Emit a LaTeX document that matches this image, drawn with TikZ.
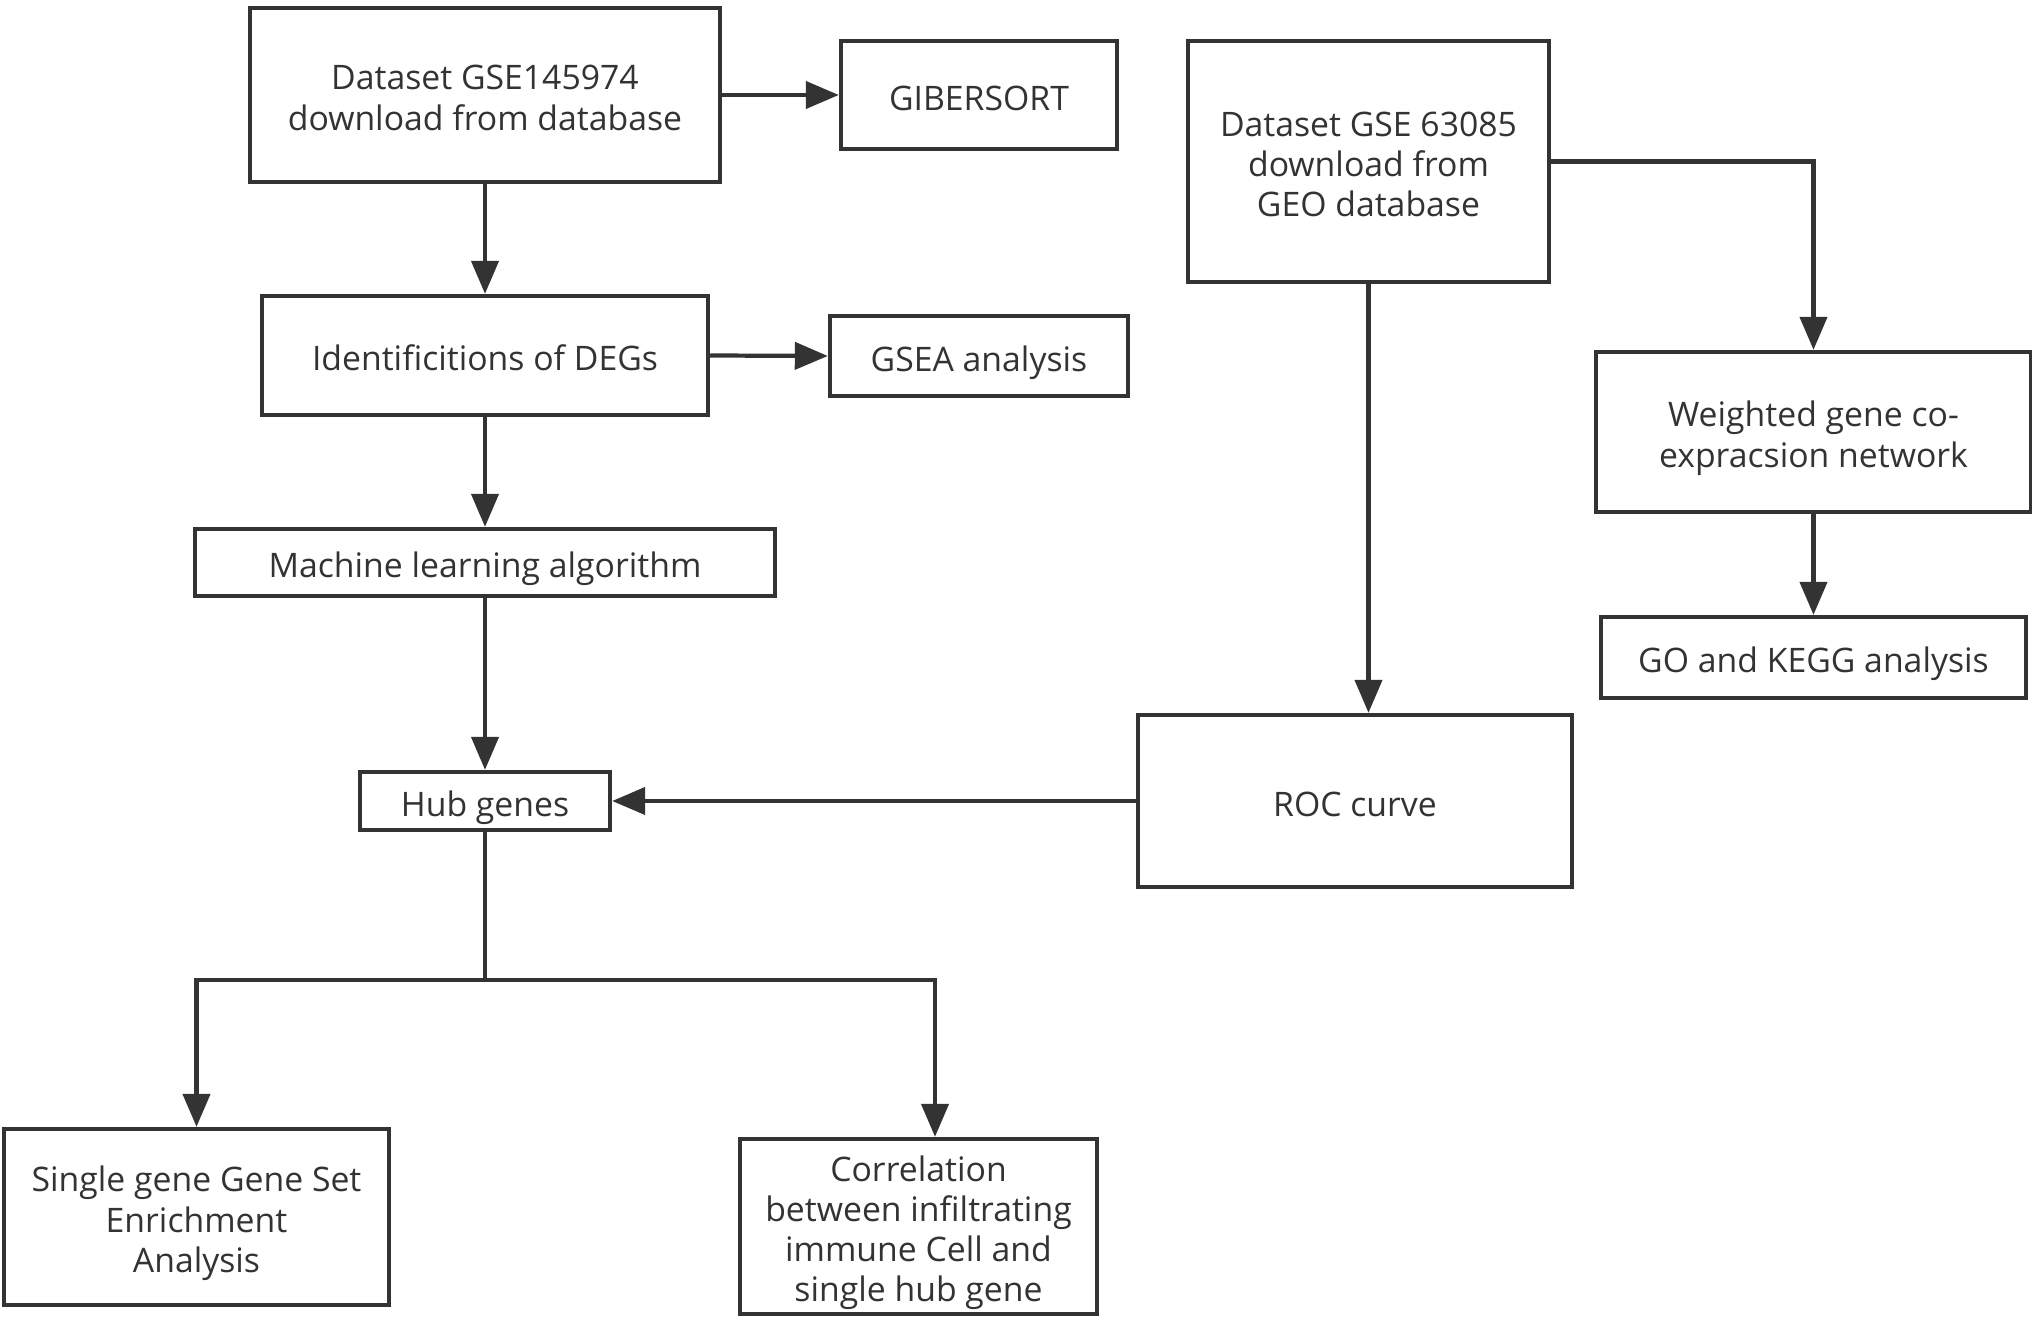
\documentclass[tikz,border=0pt]{standalone}
\usepackage{fontspec}
\setmainfont{Open Sans}
\usetikzlibrary{arrows.meta}
\definecolor{ink}{HTML}{333333}
\newcommand\boxtxt[1]{\raisebox{-2pt}[\height][\depth]{\begin{tabular}{@{}c@{}}#1\end{tabular}}}
\begin{document}
\begin{tikzpicture}[x=0.01cm,y=-0.01cm,
 box/.style={draw=ink,line width=1.2pt,text=ink,inner sep=0pt,font=\fontsize{9.6}{11.4}\selectfont},
 arr/.style={draw=ink,line width=1.2pt,-{Triangle[length=0.33cm,width=0.27cm]}},
 ln/.style={draw=ink,line width=1.2pt}]
\useasboundingbox[fill=white] (0,0) rectangle (2032,1319);

\node[box,minimum width=4.70cm,minimum height=1.74cm] (b1) at (485,95) {\boxtxt{Dataset GSE145974\\download from database}};
\node[box,minimum width=2.76cm,minimum height=1.08cm] (gib) at (979,95) {\boxtxt{GIBERSORT}};
\node[box,minimum width=4.46cm,minimum height=1.19cm] (deg) at (485,355.5) {\boxtxt{Identificitions of DEGs}};
\node[box,minimum width=2.98cm,minimum height=0.80cm] (gsea) at (979,356) {\boxtxt{GSEA analysis}};
\node[box,minimum width=5.80cm,minimum height=0.67cm] (ml) at (485,562.5) {\boxtxt{Machine learning algorithm}};
\node[box,minimum width=2.50cm,minimum height=0.58cm] (hub) at (485,801) {\boxtxt{Hub genes}};
\node[box,minimum width=3.85cm,minimum height=1.76cm] (single) at (196.5,1217) {\boxtxt{Single gene Gene Set\\Enrichment\\Analysis}};
\node[box,minimum width=3.57cm,minimum height=1.75cm] (corr) at (918.5,1226.5) {\boxtxt{Correlation\\between infiltrating\\immune Cell and\\single hub gene}};
\node[box,minimum width=3.61cm,minimum height=2.41cm] (gse63) at (1368.5,161.5) {\boxtxt{Dataset GSE 63085\\download from\\GEO database}};
\node[box,minimum width=4.35cm,minimum height=1.60cm] (wgt) at (1813.5,432) {\boxtxt{Weighted gene co-\\expracsion network}};
\node[box,minimum width=4.25cm,minimum height=0.81cm] (go) at (1813.5,657.5) {\boxtxt{GO and KEGG analysis}};
\node[box,minimum width=4.34cm,minimum height=1.72cm] (roc) at (1355,801) {\boxtxt{ROC curve}};

\draw[arr] (b1.east) -- (gib.west);
\draw[arr] (b1.south) -- (deg.north);
\draw[arr] (deg.east) -- (gsea.west);
\draw[arr] (deg.south) -- (ml.north);
\draw[arr] (ml.south) -- (hub.north);
\draw[arr] (roc.west) -- (hub.east);
\draw[arr] (gse63.south) -- (gse63.south |- roc.north);
\draw[arr] (gse63.east) -| (wgt.north);
\draw[arr] (wgt.south) -- (go.north);
\coordinate (jn) at (485,980);
\draw[ln] (hub.south) -- (jn);
\draw[arr] (jn) -| (single.north);
\draw[arr] (jn) -| ([xshift=0.165cm]corr.north);
\end{tikzpicture}
\end{document}
